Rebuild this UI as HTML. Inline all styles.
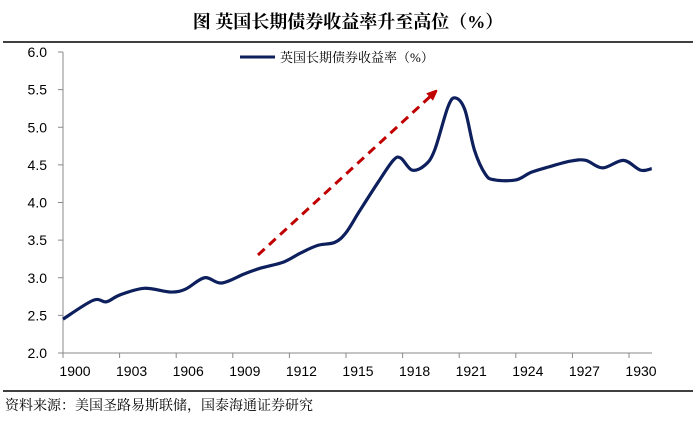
<!DOCTYPE html>
<html><head><meta charset="utf-8"><style>
body{margin:0;background:#fff;width:696px;height:417px;overflow:hidden;font-family:"Liberation Sans","Noto Sans CJK SC",sans-serif}
svg text{font-family:"Liberation Sans","Noto Sans CJK SC",sans-serif}
svg text.serif{font-family:"Liberation Serif","Noto Serif CJK SC",serif}
</style></head><body>
<svg width="696" height="417">
<text class="serif" x="348" y="28" text-anchor="middle" font-size="18" font-weight="bold">图  英国长期债券收益率升至高位（%）</text>
<line x1="3" y1="42" x2="693" y2="42" stroke="#000" stroke-width="1.5"/>
<line x1="3" y1="391" x2="693" y2="391" stroke="#000" stroke-width="1.5"/>
<text class="serif" x="5" y="410" font-size="14">资料来源：美国圣路易斯联储，国泰海通证券研究</text>
<g id="axes"></g>
<g id="legend">
<line x1="240" y1="57" x2="275" y2="57" stroke="#0d1f5c" stroke-width="3"/>
<text class="serif" x="280" y="62" font-size="13">英国长期债券收益率（%）</text>
</g>
<defs><marker id="ah" markerWidth="10" markerHeight="10" refX="6" refY="5" orient="auto" markerUnits="userSpaceOnUse"><path d="M0,0 L12,5 L0,10 z" fill="#c00000"/></marker></defs>
<line x1="258" y1="255" x2="434" y2="93" stroke="#c00000" stroke-width="3" stroke-dasharray="9,6" marker-end="url(#ah)"/>
<path id="line" fill="none" stroke="#0d1f5c" stroke-width="3.2"/>
</svg>
<script>
const years=[1900,1901.6,1902.3,1903,1904.3,1905.7,1906.5,1907.5,1908.4,1909.6,1910.5,1911.7,1912.6,1913.5,1914.4,1915,1915.7,1916.7,1917.5,1917.9,1918.5,1919.2,1919.7,1920.4,1920.8,1921.3,1921.8,1922.4,1922.9,1924,1924.8,1925.7,1926.9,1927.7,1928.6,1929.7,1930.6,1931.2];
const values=[2.45,2.70,2.68,2.77,2.86,2.81,2.85,3.0,2.93,3.05,3.13,3.21,3.33,3.43,3.47,3.6,3.88,4.27,4.56,4.59,4.43,4.5,4.7,5.27,5.39,5.23,4.70,4.37,4.30,4.30,4.40,4.47,4.55,4.56,4.46,4.56,4.43,4.45];
const yTicks=[2.0,2.5,3.0,3.5,4.0,4.5,5.0,5.5,6.0];
const xTicks=[1900,1903,1906,1909,1912,1915,1918,1921,1924,1927,1930];
const X0=63,PX=18.87,Y0=353,PY=75.25;
const xs=y=>X0+(y-1900)*PX, ys=v=>Y0-(v-2)*PY;
const ns="http://www.w3.org/2000/svg", g=document.getElementById('axes');
function mk(t,a){const e=document.createElementNS(ns,t);for(const k in a)e.setAttribute(k,a[k]);g.appendChild(e);return e;}
let e=mk('line',{x1:X0,y1:ys(6),x2:X0,y2:Y0,stroke:'#888'});


e=mk('line',{x1:X0,y1:Y0,x2:652,y2:Y0,stroke:'#888'});


yTicks.forEach(v=>{mk('line',{x1:X0-5,y1:ys(v),x2:X0,y2:ys(v),stroke:'#888'});
 const t=mk('text',{x:X0-16,y:ys(v)+5,'text-anchor':'end','font-size':14});t.textContent=v.toFixed(1);
 
 });
xTicks.forEach((yr,i)=>{const x=X0+i*56.6;mk('line',{x1:x,y1:Y0,x2:x,y2:Y0+5,stroke:'#888'});
 const t=mk('text',{x:x+12,y:376,'text-anchor':'middle','font-size':14});t.textContent=yr;
 
 });
const P=years.map((y,i)=>[xs(y),ys(values[i])]);
let d='M'+P[0][0]+','+P[0][1];
for(let i=0;i<P.length-1;i++){const p0=P[i-1]||P[i],p1=P[i],p2=P[i+1],p3=P[i+2]||p2;
 d+=` C${p1[0]+(p2[0]-p0[0])/6},${p1[1]+(p2[1]-p0[1])/6} ${p2[0]-(p3[0]-p1[0])/6},${p2[1]-(p3[1]-p1[1])/6} ${p2[0]},${p2[1]}`;}
document.getElementById('line').setAttribute('d',d);
</script>
</body></html>
